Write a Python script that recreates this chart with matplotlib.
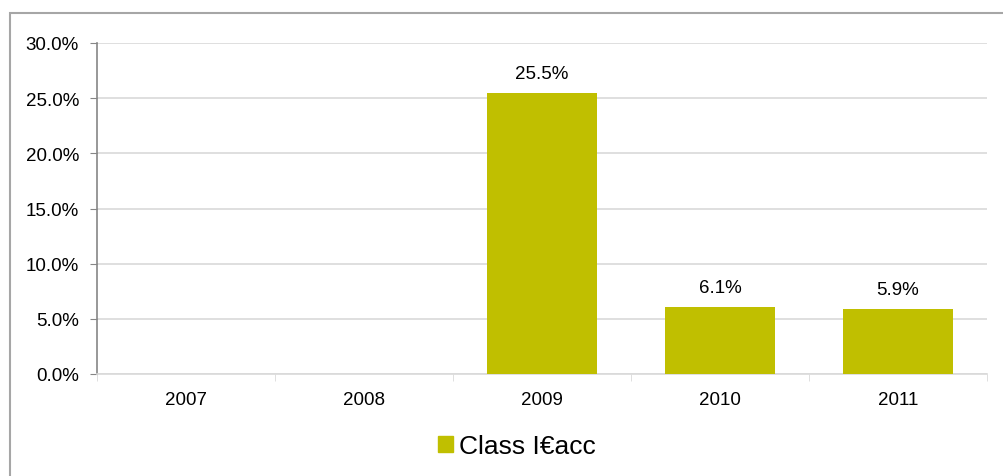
import numpy as np
import matplotlib
matplotlib.use('Agg')
import matplotlib.pyplot as plt
import matplotlib.patches as mpatches
from matplotlib.ticker import FuncFormatter, MultipleLocator

# dados do grafico
years = ['2007', '2008', '2009', '2010', '2011']
returns = [np.nan, np.nan, 0.255, 0.061, 0.059]
series_name = 'Class I€acc'

W, H = 1004, 477
plt.rcParams['font.family'] = ['Liberation Sans', 'DejaVu Sans']

fig = plt.figure(figsize=(W / 100, H / 100), dpi=100)

# moldura externa (so topo e esquerda visiveis)
frame = mpatches.Rectangle((10 / W, -0.1), 1.2, (H - 14) / H + 0.1,
                           transform=fig.transFigure, fill=False,
                           edgecolor='#a6a6a6', linewidth=1.5)
fig.patches.append(frame)

ax = fig.add_axes([97 / W, (H - 375) / H, 890 / W, 331 / H])

x = np.arange(len(years))
bars = ax.bar(x, returns, width=0.62, color='#c0bf00', zorder=3)

for xi, v in zip(x, returns):
    if not np.isnan(v):
        ax.annotate('%.1f%%' % (v * 100), (xi, v), xytext=(0, 8),
                    textcoords='offset points', ha='center', va='bottom',
                    fontsize=13.5, color='#000000')

ax.set_xlim(-0.5, len(years) - 0.5)
ax.set_ylim(0, 0.30)
ax.yaxis.set_major_locator(MultipleLocator(0.05))
ax.yaxis.set_major_formatter(FuncFormatter(lambda v, p: '%.1f%%' % (v * 100)))
ax.grid(axis='y', color='#d9d9d9', linewidth=1.2, zorder=0)

ax.set_xticks(x)
ax.set_xticklabels(years)
ax.set_xticks(np.arange(len(years) + 1) - 0.5, minor=True)
ax.tick_params(axis='x', which='major', length=0, pad=12, labelsize=13.5)
ax.tick_params(axis='x', which='minor', length=5, color='#d9d9d9', direction='out')
ax.tick_params(axis='y', length=5, color='#868686', direction='out', pad=8, labelsize=13.5)

for s in ['top', 'right']:
    ax.spines[s].set_visible(False)
ax.spines['left'].set_color('#868686')
ax.spines['left'].set_linewidth(1.2)
ax.spines['bottom'].set_color('#d9d9d9')
ax.spines['bottom'].set_linewidth(1.2)

handle = mpatches.Patch(color='#c0bf00', label=series_name)
fig.legend(handles=[handle], loc='center', bbox_to_anchor=(517 / W, 1 - 447 / H),
           frameon=False, fontsize=19, handlelength=0.55, handleheight=0.55,
           handletextpad=0.25, borderpad=0)

fig.savefig('out.png', dpi=100)
